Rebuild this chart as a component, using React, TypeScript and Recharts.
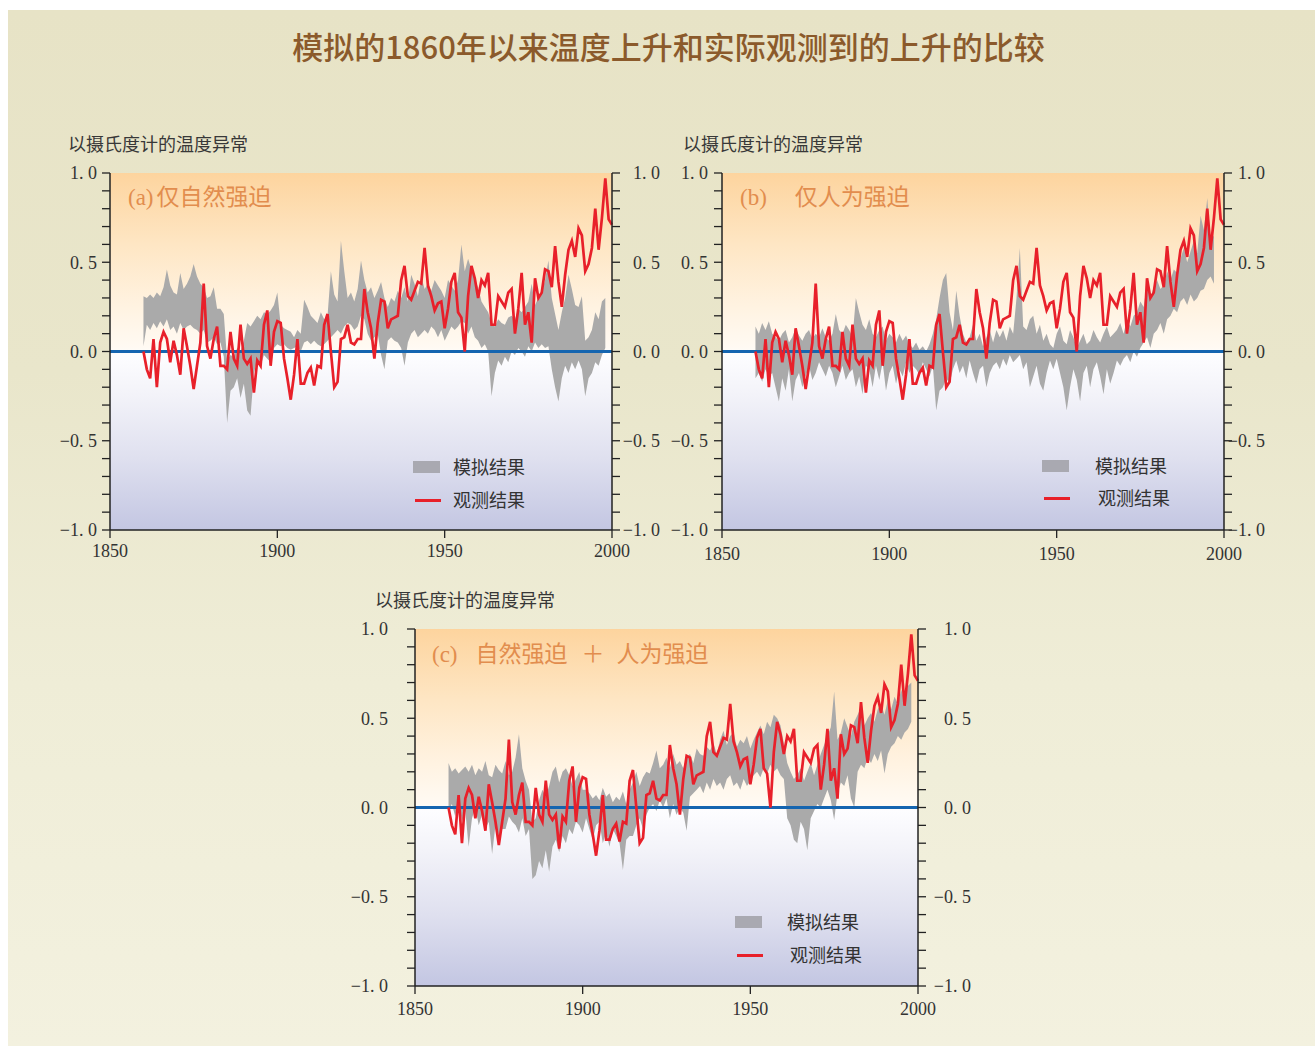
import React from 'react';
import { ComposedChart, Area, Line, XAxis, YAxis, ReferenceLine } from 'recharts';

const START_YEAR = 1860;

// Observed global temperature anomaly (red line), 1860-2000
const OBS = [
  0.00, -0.10, -0.15, 0.07, -0.20, 0.05, 0.11, 0.07, -0.06, 0.06,
  -0.02, -0.13, 0.13, 0.03, -0.08, -0.21, -0.08, 0.05, 0.38, 0.03,
  -0.04, 0.07, 0.14, -0.08, -0.08, -0.10, 0.11, -0.04, -0.08, 0.15,
  -0.04, -0.07, -0.04, -0.23, -0.05, -0.08, 0.15, 0.23, -0.08, 0.11,
  0.17, 0.16, -0.04, -0.15, -0.27, -0.13, 0.07, -0.18, -0.18, -0.12,
  -0.09, -0.19, -0.08, -0.09, 0.15, 0.21, 0.00, -0.20, -0.17, 0.07,
  0.08, 0.15, 0.05, 0.04, 0.07, 0.07, 0.35, 0.22, 0.13, -0.04,
  0.16, 0.29, 0.28, 0.13, 0.18, 0.19, 0.20, 0.40, 0.48, 0.31,
  0.29, 0.34, 0.39, 0.38, 0.58, 0.37, 0.31, 0.23, 0.27, 0.28,
  0.13, 0.24, 0.39, 0.44, 0.22, 0.19, 0.00, 0.31, 0.48, 0.41,
  0.30, 0.40, 0.37, 0.44, 0.15, 0.15, 0.31, 0.28, 0.25, 0.33,
  0.35, 0.10, 0.24, 0.44, 0.15, 0.22, 0.05, 0.41, 0.30, 0.33,
  0.46, 0.45, 0.36, 0.59, 0.39, 0.25, 0.43, 0.57, 0.62, 0.53,
  0.69, 0.65, 0.45, 0.49, 0.58, 0.80, 0.57, 0.75, 0.97, 0.74,
  0.71,
];

// (a) natural forcing only: model range
const NAT_LO = [
  0.03, 0.15, 0.12, 0.16, 0.13, 0.17, 0.14, 0.18, 0.12, 0.14,
  0.10, 0.16, 0.12, 0.14, 0.15, 0.13, 0.12, 0.10, 0.12, 0.05,
  0.06, 0.08, 0.04, 0.05, -0.03, -0.40, -0.22, -0.20, -0.15, -0.26,
  -0.18, -0.33, -0.36, -0.12, -0.05, -0.08, -0.02, -0.04, -0.06, 0.02,
  0.04, 0.03, 0.04, 0.02, 0.01, 0.02, 0.03, 0.00, 0.05, 0.06,
  0.04, 0.06, 0.04, 0.03, 0.04, 0.06, 0.08, 0.10, 0.12, 0.10,
  0.14, 0.16, 0.15, 0.12, 0.14, 0.20, 0.18, 0.10, 0.06, 0.08,
  0.10, -0.02, -0.10, 0.06, 0.08, 0.06, 0.05, 0.02, -0.08, 0.05,
  0.10, 0.12, 0.08, 0.10, 0.12, 0.10, 0.14, 0.12, 0.08, 0.12,
  0.06, 0.10, 0.14, 0.12, 0.14, 0.17, 0.16, 0.10, 0.14, 0.08,
  0.06, 0.02, 0.04, 0.00, -0.25, -0.12, -0.05, -0.08, -0.03, -0.06,
  0.00, -0.02, 0.02, 0.00, -0.03, 0.03, 0.00, 0.05, 0.02, 0.04,
  0.02, 0.03, -0.10, -0.20, -0.28, -0.15, -0.08, -0.12, -0.06, -0.10,
  -0.05, -0.10, -0.25, -0.15, -0.12, -0.06, -0.08, -0.02, 0.02,
];
const NAT_HI = [
  0.31, 0.30, 0.32, 0.30, 0.33, 0.31, 0.36, 0.46, 0.37, 0.33,
  0.32, 0.44, 0.35, 0.38, 0.42, 0.49, 0.42, 0.38, 0.36, 0.30,
  0.31, 0.36, 0.24, 0.24, 0.21, -0.05, -0.02, -0.03, 0.02, 0.00,
  0.06, 0.16, 0.14, 0.17, 0.20, 0.18, 0.22, 0.21, 0.23, 0.26,
  0.33, 0.15, 0.13, 0.12, 0.11, 0.08, 0.12, 0.10, 0.29, 0.25,
  0.20, 0.18, 0.16, 0.22, 0.18, 0.20, 0.45, 0.32, 0.28, 0.62,
  0.45, 0.30, 0.33, 0.28, 0.35, 0.51, 0.40, 0.33, 0.36, 0.30,
  0.34, 0.39, 0.30, 0.25, 0.30, 0.28, 0.34, 0.30, 0.36, 0.28,
  0.43, 0.38, 0.31, 0.42, 0.35, 0.38, 0.34, 0.40, 0.37, 0.34,
  0.30, 0.40, 0.37, 0.34, 0.40, 0.60, 0.45, 0.52, 0.46, 0.40,
  0.36, 0.28, 0.25, 0.22, 0.16, 0.14, 0.18, 0.16, 0.15, 0.19,
  0.20, 0.18, 0.24, 0.22, 0.25, 0.28, 0.38, 0.26, 0.30, 0.33,
  0.40, 0.51, 0.30, 0.21, 0.12, 0.22, 0.30, 0.43, 0.35, 0.26,
  0.25, 0.31, 0.06, 0.08, 0.12, 0.22, 0.18, 0.28, 0.30,
];

// (b) anthropogenic forcing only: model range
const ANT_LO = [
  -0.15, -0.12, -0.17, -0.10, -0.14, -0.12, -0.20, -0.28, -0.15, -0.22,
  -0.10, -0.28, -0.16, -0.12, -0.20, -0.14, -0.08, -0.16, -0.12, -0.06,
  -0.10, -0.14, -0.08, -0.12, -0.20, -0.14, -0.08, -0.16, -0.12, -0.10,
  -0.20, -0.14, -0.24, -0.08, -0.10, -0.20, -0.08, -0.16, -0.06, -0.22,
  -0.12, -0.08, -0.18, -0.10, -0.14, -0.06, -0.12, -0.08, -0.10, -0.13,
  -0.06, -0.10, -0.14, -0.08, -0.33, -0.22, -0.20, -0.15, -0.18, -0.10,
  -0.05, -0.12, -0.08, -0.15, -0.05, -0.12, -0.18, -0.10, -0.08, -0.20,
  -0.12, -0.08, -0.06, -0.10, -0.04, -0.08, -0.02, -0.06, -0.04, -0.02,
  -0.10, -0.06, -0.20, -0.14, -0.08, -0.18, -0.22, -0.12, -0.05, -0.10,
  -0.04, -0.12, -0.20, -0.33, -0.20, -0.10, -0.16, -0.28, -0.12, -0.08,
  -0.20, -0.10, -0.06, -0.14, -0.24, -0.10, -0.18, -0.12, -0.05, -0.08,
  -0.04, -0.02, -0.06, 0.00, -0.03, 0.02, 0.05, 0.08, 0.02, 0.10,
  0.12, 0.16, 0.10, 0.18, 0.20, 0.24, 0.22, 0.28, 0.30, 0.26,
  0.32, 0.28, 0.30, 0.34, 0.35, 0.40, 0.42, 0.38,
];
const ANT_HI = [
  0.14, 0.10, 0.16, 0.12, 0.17, 0.10, 0.08, 0.06, 0.10, 0.12,
  0.05, 0.08, 0.13, 0.09, 0.06, 0.10, 0.12, 0.07, 0.10, 0.08,
  0.13, 0.08, 0.06, 0.10, 0.21, 0.12, 0.10, 0.15, 0.12, 0.08,
  0.30, 0.22, 0.15, 0.12, 0.18, 0.10, 0.08, 0.12, 0.14, 0.06,
  0.10, 0.08, 0.05, 0.10, 0.06, 0.09, 0.04, 0.02, 0.05, 0.01,
  0.03, 0.00, 0.04, 0.10, 0.18, 0.30, 0.40, 0.44, 0.22, 0.12,
  0.34, 0.20, 0.10, 0.05, 0.08, 0.15, 0.06, 0.10, 0.03, 0.08,
  0.12, 0.05, 0.12, 0.08, 0.12, 0.06, 0.14, 0.10, 0.30, 0.58,
  0.14, 0.12, 0.18, 0.20, 0.10, 0.15, 0.06, 0.10, 0.04, 0.02,
  0.10, 0.14, 0.06, 0.04, 0.12, 0.08, 0.02, 0.06, 0.10, 0.04,
  0.06, 0.12, 0.08, 0.05, 0.10, 0.14, 0.08, 0.10, 0.12, 0.16,
  0.10, 0.18, 0.14, 0.20, 0.22, 0.28, 0.25, 0.38, 0.30, 0.36,
  0.40, 0.35, 0.37, 0.45, 0.40, 0.46, 0.44, 0.52, 0.58, 0.50,
  0.56, 0.62, 0.55, 0.76, 0.68, 0.86, 0.62, 0.65,
];

// (c) natural + anthropogenic forcing: model range
const ALL_LO = [
  -0.02, 0.02, -0.05, 0.04, -0.08, -0.02, -0.22, -0.06, 0.00, -0.10,
  -0.04, -0.12, -0.08, -0.26, -0.10, -0.18, -0.12, -0.12, -0.05, -0.08,
  -0.10, -0.14, -0.06, -0.16, -0.12, -0.40, -0.38, -0.30, -0.34, -0.24,
  -0.36, -0.22, -0.18, -0.25, -0.16, -0.20, -0.12, -0.15, -0.08, -0.10,
  -0.14, -0.06, -0.12, -0.18, -0.10, -0.08, -0.20, -0.14, -0.22, -0.12,
  -0.16, -0.20, -0.35, -0.18, -0.16, -0.16, -0.10, -0.06, -0.12, -0.04,
  0.00, 0.02, -0.02, 0.04, 0.00, 0.05, -0.06, 0.02, -0.04, 0.00,
  -0.03, -0.13, 0.06, 0.08, 0.10, 0.12, 0.08, 0.14, 0.10, 0.16,
  0.12, 0.14, 0.10, 0.16, 0.18, 0.12, 0.14, 0.10, 0.16, 0.12,
  0.15, 0.18, 0.20, 0.17, 0.22, 0.19, 0.24, 0.20, 0.22, 0.18,
  0.16, -0.06, -0.10, -0.18, -0.20, -0.08, -0.12, -0.24, -0.06, -0.02,
  0.02, 0.00, 0.05, 0.10, 0.04, -0.07, 0.08, 0.14, 0.12, 0.18,
  0.05, 0.00, 0.20, 0.24, 0.22, 0.28, 0.25, 0.30, 0.26, 0.32,
  0.19, 0.30, 0.34, 0.36, 0.40, 0.38, 0.42, 0.44, 0.48,
];
const ALL_HI = [
  0.25, 0.20, 0.22, 0.19, 0.21, 0.23, 0.20, 0.24, 0.18, 0.22,
  0.20, 0.26, 0.18, 0.17, 0.24, 0.21, 0.19, 0.26, 0.18, 0.20,
  0.28, 0.41, 0.22, 0.15, 0.10, -0.08, -0.06, 0.04, 0.10, 0.06,
  0.12, 0.20, 0.23, 0.14, 0.20, 0.22, 0.18, 0.12, 0.16, 0.20,
  0.10, 0.10, 0.08, 0.05, 0.07, 0.04, 0.11, 0.06, 0.08, 0.03,
  0.06, 0.04, 0.09, 0.02, 0.10, 0.14, 0.20, 0.12, 0.17, 0.20,
  0.19, 0.25, 0.32, 0.22, 0.24, 0.28, 0.22, 0.30, 0.24, 0.26,
  0.22, 0.28, 0.30, 0.25, 0.33, 0.30, 0.29, 0.34, 0.32, 0.36,
  0.30, 0.38, 0.43, 0.35, 0.40, 0.42, 0.34, 0.38, 0.36, 0.40,
  0.33, 0.38, 0.42, 0.46, 0.41, 0.48, 0.45, 0.52, 0.50, 0.46,
  0.36, 0.25, 0.20, 0.16, 0.18, 0.22, 0.15, 0.20, 0.25, 0.18,
  0.24, 0.30, 0.35, 0.40, 0.45, 0.65, 0.38, 0.42, 0.50, 0.45,
  0.40, 0.48, 0.52, 0.56, 0.46, 0.50, 0.53, 0.48, 0.55, 0.58,
  0.52, 0.60, 0.55, 0.62, 0.58, 0.66, 0.60, 0.68, 0.70,
];

const YEARS = OBS.map((_, i) => START_YEAR + i);
const X_TICKS = [1850, 1900, 1950, 2000];
const Y_TICKS = [-1, -0.9, -0.8, -0.7, -0.6, -0.5, -0.4, -0.3, -0.2, -0.1, 0, 0.1, 0.2, 0.3, 0.4, 0.5, 0.6, 0.7, 0.8, 0.9, 1];

const TITLE = '模拟的1860年以来温度上升和实际观测到的上升的比较';
const Y_LABEL = '以摄氏度计的温度异常';
const LEGEND_MODEL = '模拟结果';
const LEGEND_OBS = '观测结果';

const SERIF = '"Liberation Serif", "DejaVu Serif", serif';
const CJK = '"Noto Sans CJK SC", "Noto Sans", sans-serif';
const SERIF_CJK = '"Liberation Serif", "Noto Sans CJK SC", serif';

function buildData(lo: number[], hi: number[]) {
  return YEARS.map((year, i) => ({
    year,
    obs: OBS[i],
    band: i < lo.length ? [lo[i], hi[i]] : null,
  }));
}

function fmtY(v: number) {
  const r = Math.round(v * 10) / 10;
  if (Math.abs(r * 2 - Math.round(r * 2)) > 1e-6) return '';
  const s = Math.abs(r).toFixed(1).replace('.', '. ');
  return (r < 0 ? '\u2212' : '') + s;
}

const PLOT_H = 357;
const LEFT_W = 70;
const RIGHT_W = 70;
const TOP_M = 10;
const X_H = 34;

function Panel(props: {
  left: number; top: number; plotW: number; lo: number[]; hi: number[];
  leftGap: number; rightEnd: number; xLabelGap: number;
}) {
  const { left, top, plotW, lo, hi, leftGap, rightEnd, xLabelGap } = props;
  const data = buildData(lo, hi);
  const width = LEFT_W + plotW + RIGHT_W;
  const height = TOP_M + PLOT_H + X_H;
  const tickStyle = { fontFamily: SERIF, fontSize: 18, fill: '#333' };
  const leftTick = (p: any) => (
    <text x={p.x + 8 + 4 - leftGap} y={p.y} dy="0.35em" textAnchor="end" style={tickStyle}>{fmtY(p.payload.value)}</text>
  );
  const rightTick = (p: any) => (
    <text x={p.x - 12 + rightEnd} y={p.y} dy="0.35em" textAnchor="end" style={tickStyle}>{fmtY(p.payload.value)}</text>
  );
  const xTick = (p: any) => (
    <text x={p.x} y={p.y - 12 + xLabelGap} dy="0.35em" textAnchor="middle" style={tickStyle}>{p.payload.value}</text>
  );
  return (
    <div style={{ position: 'absolute', left, top, width, height }}>
      <div style={{
        position: 'absolute', left: LEFT_W, top: TOP_M, width: plotW, height: PLOT_H,
        background: 'linear-gradient(to bottom, #fdd49e 0%, #fee6c4 20%, #fff3e2 38%, #fffaf3 49%, #fdfdff 51%, #f3f3f9 62%, #dfe0ef 80%, #c3c6e2 100%)',
      }} />
      <div style={{ position: 'absolute', left: 0, top: 0 }}>
        <ComposedChart width={width} height={height} data={data} margin={{ top: TOP_M, right: 0, bottom: 0, left: 0 }}>
          <XAxis dataKey="year" type="number" domain={[1850, 2000]} ticks={X_TICKS} interval={0}
            height={X_H} tickSize={8} tickMargin={4} tick={xTick}
            axisLine={{ stroke: '#222', strokeWidth: 1.5 }} tickLine={{ stroke: '#222', strokeWidth: 1.3 }} />
          <YAxis yAxisId="l" type="number" domain={[-1, 1]} ticks={Y_TICKS} interval={0} width={LEFT_W}
            tickSize={8} tickMargin={4} tick={leftTick}
            axisLine={{ stroke: '#222', strokeWidth: 1.5 }} tickLine={{ stroke: '#222', strokeWidth: 1.3 }} />
          <YAxis yAxisId="r" orientation="right" type="number" domain={[-1, 1]} ticks={Y_TICKS} interval={0} width={RIGHT_W}
            tickSize={8} tickMargin={4} tick={rightTick}
            axisLine={{ stroke: '#222', strokeWidth: 1.5 }} tickLine={{ stroke: '#222', strokeWidth: 1.3 }} />
          <Area yAxisId="l" dataKey="band" type="linear" stroke="none" fill="#aaaaaa" fillOpacity={1}
            isAnimationActive={false} connectNulls={false} />
          <ReferenceLine yAxisId="l" y={0} stroke="#1565b0" strokeWidth={3} />
          <Line yAxisId="r" dataKey="obs" type="linear" stroke="none" strokeWidth={0} dot={false}
            isAnimationActive={false} legendType="none" />
          <Line yAxisId="l" dataKey="obs" type="linear" stroke="#e8202a" strokeWidth={2.7} dot={false}
            isAnimationActive={false} />
        </ComposedChart>
      </div>
    </div>
  );
}

function Legend(props: { x: number; y: number; textDx: number; textDx2: number; gap: number }) {
  const { x, y, textDx, textDx2, gap } = props;
  const textStyle: React.CSSProperties = { position: 'absolute', fontFamily: CJK, fontSize: 18, color: '#333', lineHeight: '20px', whiteSpace: 'nowrap' };
  return (
    <>
      <div style={{ position: 'absolute', left: x, top: y - 6, width: 27, height: 12, background: '#a9a9b1' }} />
      <div style={{ ...textStyle, left: x + textDx, top: y - 11 }}>{LEGEND_MODEL}</div>
      <div style={{ position: 'absolute', left: x + 2, top: y + gap - 1.5, width: 26, height: 3, background: '#e8202a' }} />
      <div style={{ ...textStyle, left: x + textDx2, top: y + gap - 11 }}>{LEGEND_OBS}</div>
    </>
  );
}

const labelStyle: React.CSSProperties = {
  position: 'absolute', fontFamily: SERIF_CJK, fontSize: 23, color: '#e28d4e', whiteSpace: 'nowrap', lineHeight: '26px',
};
const subStyle: React.CSSProperties = {
  position: 'absolute', fontFamily: CJK, fontSize: 18, color: '#383838', whiteSpace: 'nowrap', lineHeight: '20px',
};

export default function App() {
  // outer container at page (8,10); coords below are page - (8,10)
  return (
    <div style={{
      position: 'absolute', left: 8, top: 10, width: 1307, height: 1036, overflow: 'hidden',
      background: 'linear-gradient(to bottom, #e7e3c6 0%, #e9e6cb 35%, #efedd7 65%, #f3f1df 100%)',
    }}>
      <div style={{
        position: 'absolute', left: 0, width: 1307, top: 16, textAlign: 'center',
        fontFamily: CJK, fontSize: 31, fontWeight: 500, color: '#8b5a2b', lineHeight: '40px',
      }}>
        <span style={{ position: 'relative', left: 7 }}>{TITLE}</span>
      </div>

      <div style={{ ...subStyle, left: 60, top: 123 }}>{Y_LABEL}</div>
      <div style={{ ...subStyle, left: 675, top: 123 }}>{Y_LABEL}</div>
      <div style={{ ...subStyle, left: 367, top: 579 }}>{Y_LABEL}</div>

      <Panel left={102 - LEFT_W} top={163 - TOP_M} plotW={502} lo={NAT_LO} hi={NAT_HI} leftGap={13} rightEnd={48} xLabelGap={21} />
      <Panel left={714 - LEFT_W} top={163 - TOP_M} plotW={502} lo={ANT_LO} hi={ANT_HI} leftGap={14} rightEnd={41} xLabelGap={24} />
      <Panel left={407 - LEFT_W} top={619 - TOP_M} plotW={503} lo={ALL_LO} hi={ALL_HI} leftGap={27} rightEnd={53} xLabelGap={23} />

      <div style={{ ...labelStyle, left: 120, top: 175 }}>(a)<span style={{ marginLeft: 3 }}>仅自然强迫</span></div>
      <div style={{ ...labelStyle, left: 732, top: 175 }}>(b)<span style={{ marginLeft: 28 }}>仅人为强迫</span></div>
      <div style={{ ...labelStyle, left: 424, top: 632 }}>(c)<span style={{ marginLeft: 18 }}>自然强迫</span><span style={{ marginLeft: 14 }}>＋</span><span style={{ marginLeft: 12 }}>人为强迫</span></div>

      <Legend x={405} y={457} textDx={40} textDx2={40} gap={33} />
      <Legend x={1034} y={456} textDx={53} textDx2={56} gap={32} />
      <Legend x={727} y={912} textDx={52} textDx2={55} gap={33} />
    </div>
  );
}
